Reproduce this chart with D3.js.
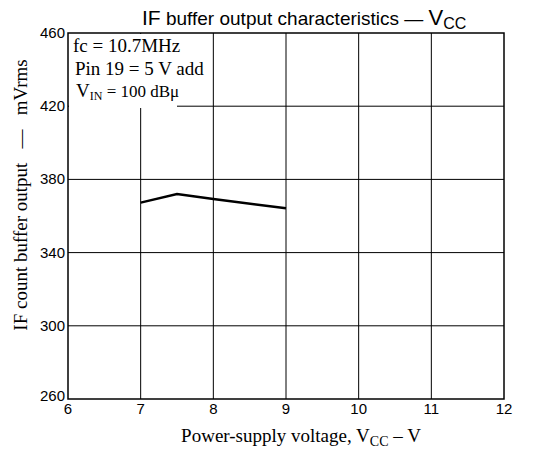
<!DOCTYPE html>
<html><head><meta charset="utf-8">
<script src="https://cdn.jsdelivr.net/npm/d3@7"></script>
<style>body{margin:0;background:#fff}</style>
</head><body>
<svg id="c" width="543" height="452"></svg>
<script>
const xTicks = [6,7,8,9,10,11,12];
const yTicks = [260,300,340,380,420,460];
const vcc = [7, 7.5, 8, 9];
const output = [367.3, 372, 369.3, 364.2];

const svg = d3.select("#c");
const m = {l:68, r:504, t:33, b:399};
const x = d3.scaleLinear().domain([6,12]).range([m.l, m.r]);
const y = d3.scaleLinear().domain([260,460]).range([m.b, m.t]);
const serif = "'Liberation Serif','DejaVu Serif',serif";
const sans = "'Liberation Sans',Arial,sans-serif";

// grid
const g = svg.append("g");
g.selectAll(".vg").data(xTicks.slice(1,-1)).join("line")
  .attr("x1", d=>x(d)).attr("x2", d=>x(d)).attr("y1", m.t).attr("y2", m.b)
  .attr("stroke","#000").attr("stroke-width",1);
g.selectAll(".hg").data(yTicks.slice(1,-1)).join("line")
  .attr("x1", m.l).attr("x2", m.r).attr("y1", d=>y(d)).attr("y2", d=>y(d))
  .attr("stroke","#000").attr("stroke-width",1);

// legend box mask
svg.append("rect").attr("x", m.l+1).attr("y", m.t+1).attr("width", 108).attr("height", 74).attr("fill","#fff");

// frame
svg.append("rect").attr("x", m.l).attr("y", m.t).attr("width", m.r-m.l).attr("height", m.b-m.t)
  .attr("fill","none").attr("stroke","#000").attr("stroke-width",1.5);

// axes tick labels
svg.selectAll(".xt").data(xTicks).join("text")
  .attr("x", d=>x(d)).attr("y", m.b+15).attr("text-anchor","middle")
  .attr("font-family", sans).attr("font-size", 15).text(d=>d);
svg.selectAll(".yt").data(yTicks).join("text")
  .attr("x", m.l-3).attr("y", d=>y(d)+ (d===260? 2 : 5)).attr("text-anchor","end")
  .attr("font-family", sans).attr("font-size", 15).text(d=>d);

// data line
const line = d3.line().x((d,i)=>x(vcc[i])).y(d=>y(d));
svg.append("path").attr("d", line(output)).attr("fill","none")
  .attr("stroke","#000").attr("stroke-width",2.5);

// legend text
const lg = svg.append("g").attr("font-family", serif).attr("font-size", 19);
lg.append("text").attr("x", 73).attr("y", 52).text("fc = 10.7MHz");
lg.append("text").attr("x", 75).attr("y", 75).text("Pin 19 = 5 V add");
const t3 = lg.append("text").attr("x", 76).attr("y", 97);
t3.append("tspan").text("V");
t3.append("tspan").attr("font-size", 12).attr("dy", 3).text("IN");
t3.append("tspan").attr("dy", -3).attr("font-size", 17).text(" = 100 dBμ");

// title
const tt = svg.append("text").attr("x", 142).attr("y", 25).attr("font-family", sans);
tt.append("tspan").attr("font-size", 21).text("IF");
tt.append("tspan").attr("font-size", 19).text(" buffer output characteristics — ");
tt.append("tspan").attr("font-size", 22).text("V");
tt.append("tspan").attr("font-size", 16).attr("dy", 4).text("CC");

// x label
const xl = svg.append("text").attr("x", 301).attr("y", 442).attr("text-anchor","middle")
  .attr("font-family", serif).attr("font-size", 19);
xl.append("tspan").text("Power-supply voltage, V");
xl.append("tspan").attr("font-size", 14).attr("dy", 4).text("CC");
xl.append("tspan").attr("dy", -4).text(" – V");

// y label
svg.append("text").attr("transform","translate(27,195) rotate(-90)")
  .attr("text-anchor","middle").attr("font-family", serif).attr("font-size", 19)
  .attr("xml:space","preserve")
  .text("IF count buffer output   —   mVrms");
</script>
</body></html>
